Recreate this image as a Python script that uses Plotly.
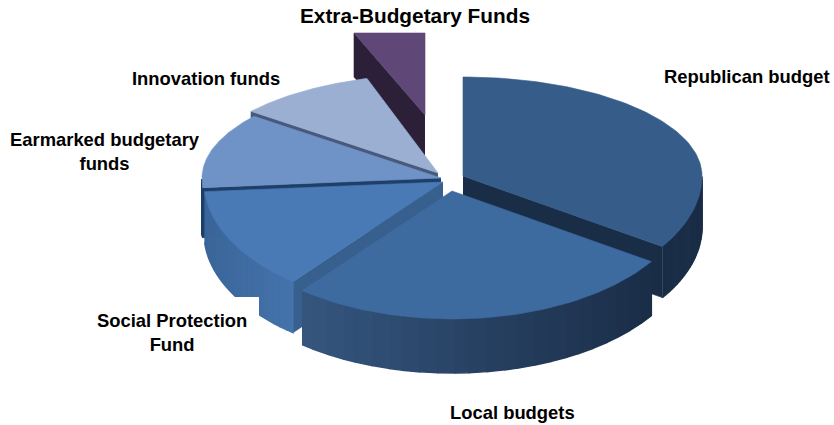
import numpy as np
import plotly.graph_objects as go

# ---- data (shares, %) ----
categories = ["Republican budget", "Local budgets", "Social Protection Fund",
              "Earmarked budgetary funds", "Innovation funds", "Extra-Budgetary Funds"]
shares = [34.3, 26.5, 13.0, 11.9, 9.5, 4.8]

label_lines = ["Republican budget", "Local budgets", "Social Protection<br>Fund",
               "Earmarked budgetary<br>funds", "Innovation funds", "Extra-Budgetary Funds"]

# ---- styling / 3-D projection (pixel-like axis units) ----
W, H = 834, 425
RX, RY_BACK, RY_FRONT = 239, 99, 128
APEX = [(463, 176), (452, 191), (443, 182), (441, 178), (438, 173), (425, 115)]
DEPTH = [51, 54, 51, 50, 50, 44]
TOP = ["#365c8a", "#3d6a9f", "#4a7ab5", "#7093c7", "#9bafd2", "#5f4777"]
WALL_L = ["#1a2d47", "#35567f", "#3a6599", "#1f3f6b", "#47597c", "#2c2038"]
WALL_R = ["#1a2d47", "#1a2d47", "#4473ab", "#1f3f6b", "#47597c", "#2c2038"]
RADIAL = ["#1a2d47", None, "#38608f", "#1f3f6b", "#47597c", "#2c2038"]
# which edge of the slice shows a cut wall: 0 = first edge, 1 = last edge
RADIAL_EDGE = [1, 1, 0, 0, 0, 0]
DRAW_ORDER = [5, 4, 3, 2, 0, 1]
CLIP_TOP = 33
LABEL_POS = [(747, 76), (512, 412), (172, 332), (105, 151), (206, 78), (415, 15)]
LABEL_SIZE = [18.4, 18.4, 18.4, 18.4, 18.4, 20.8]

# slices run clockwise from 12 o'clock
sweep = np.array(shares) / sum(shares) * 360.0
starts = 90 - np.concatenate([[0], np.cumsum(sweep)[:-1]])


def arc(i):
    t = np.radians(np.linspace(starts[i], starts[i] - sweep[i], 90))
    s = np.sin(t)
    x = APEX[i][0] + RX * np.cos(t)
    y = APEX[i][1] - np.where(s > 0, RY_BACK, RY_FRONT) * s
    return x, np.maximum(y, CLIP_TOP)


def mix(a, b, f):
    ca = [int(a[k:k + 2], 16) for k in (1, 3, 5)]
    cb = [int(b[k:k + 2], 16) for k in (1, 3, 5)]
    return "#%02x%02x%02x" % tuple(round(p + (q - p) * f) for p, q in zip(ca, cb))


fig = go.Figure()


def poly(x, y, color, name, width=0.6):
    fig.add_trace(go.Scatter(
        x=np.asarray(x), y=np.asarray(y), mode="lines", fill="toself",
        fillcolor=color, line=dict(color=color, width=width),
        name=name, hoverinfo="name", showlegend=False))


for i in DRAW_ORDER:
    x, y = arc(i)
    ax, ay = APEX[i]
    d = DEPTH[i]
    # cut wall on the radial edge
    if RADIAL[i]:
        ex, ey = (x[-1], y[-1]) if RADIAL_EDGE[i] else (x[0], y[0])
        poly([ax, ex, ex, ax], [ay, ey, ey + d, ay + d], RADIAL[i], categories[i])
    # rim wall, only on the front half, shaded from left to right
    t = np.radians(np.linspace(starts[i], starts[i] - sweep[i], 90))
    front = np.where(np.sin(t) < 0)[0]
    if len(front) > 1:
        fx, fy = x[front], y[front]
        order = np.argsort(fx)
        fx, fy = fx[order], fy[order]
        edges = np.linspace(0, len(fx) - 1, 25).astype(int)
        for a, b in zip(edges[:-1], edges[1:]):
            sx, sy = fx[a:b + 1], fy[a:b + 1]
            f = (sx.mean() - fx[0]) / max(fx[-1] - fx[0], 1)
            poly(np.r_[sx, sx[::-1]], np.r_[sy, sy[::-1] + d],
                 mix(WALL_L[i], WALL_R[i], f), categories[i], width=1.5)
    # top face
    poly(np.r_[ax, x, ax], np.r_[ay, y, ay], TOP[i], categories[i])

annotations = [
    dict(x=px, y=py, xref="x", yref="y", text="<b>%s</b>" % txt, showarrow=False,
         align="center", xanchor="center", yanchor="middle",
         font=dict(family="Liberation Sans", size=sz, color="#000000"))
    for txt, (px, py), sz in zip(label_lines, LABEL_POS, LABEL_SIZE)
]

fig.update_layout(
    width=W, height=H, margin=dict(l=0, r=0, t=0, b=0),
    paper_bgcolor="white", plot_bgcolor="white", showlegend=False,
    xaxis=dict(range=[0, W], visible=False),
    yaxis=dict(range=[H, 0], visible=False),
    annotations=annotations,
    # white panel the source image lays behind the "Social Protection Fund" label
    shapes=[dict(type="rect", xref="x", yref="y", x0=80, x1=259, y0=297, y1=360,
                 fillcolor="white", line=dict(width=0), layer="above")],
)

fig.write_html("out.html", config={"displayModeBar": False},
               post_script="document.body.style.margin='0';")
